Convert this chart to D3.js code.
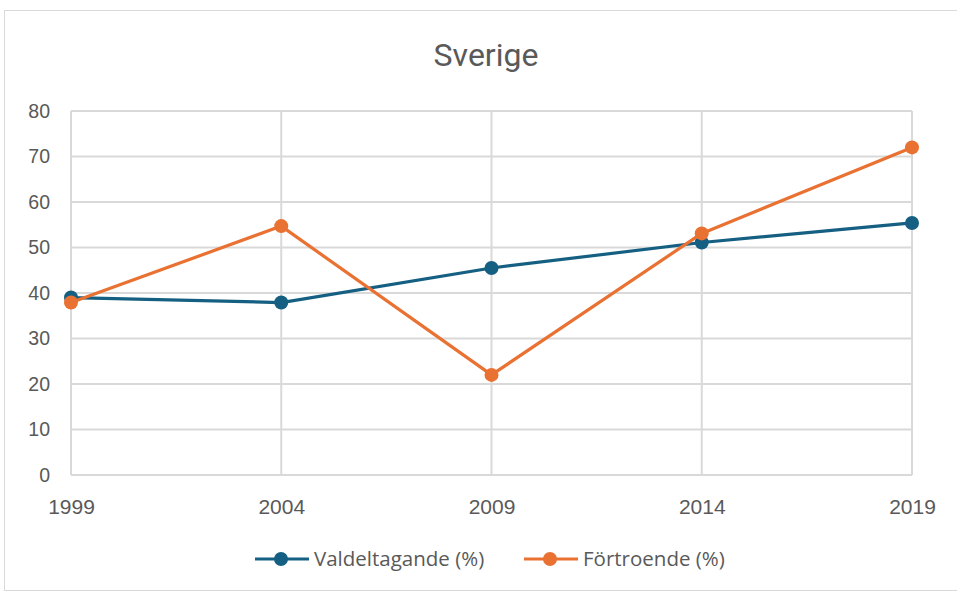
<!DOCTYPE html>
<html>
<head>
<meta charset="utf-8">
<script src="https://cdn.jsdelivr.net/npm/d3@7"></script>
<style>
  body { margin: 0; background: #fff; }
  svg text { fill: #595959; font-family: "Open Sans", "Liberation Sans", sans-serif; }
</style>
</head>
<body>
<svg id="chart" width="957" height="592"></svg>
<script>
const years = ['1999', '2004', '2009', '2014', '2019'];
const valdeltagande = [39.0, 37.9, 45.5, 51.1, 55.4];
const fortroende = [37.9, 54.7, 22.0, 53.1, 72.0];
const yTicks = [0, 10, 20, 30, 40, 50, 60, 70, 80];
const seriesNames = ['Valdeltagande (%)', 'Förtroende (%)'];
const colors = ['#156082', '#E97132'];

const svg = d3.select('#chart');
const margin = {left: 71, right: 45, top: 111, bottom: 117};
const width = 957, height = 592;

svg.append('rect')
    .attr('x', 4.5).attr('y', 10.5)
    .attr('width', 960).attr('height', 580)
    .attr('fill', '#fff').attr('stroke', '#d9d9d9');

svg.append('text')
    .attr('x', 486).attr('y', 66)
    .attr('text-anchor', 'middle')
    .style('font-size', '32px')
    .style('font-family', '"Roboto", sans-serif')
    .text('Sverige');

const x = d3.scalePoint().domain(years).range([margin.left, width - margin.right]);
const y = d3.scaleLinear().domain([0, 80]).range([height - margin.bottom, margin.top]);

// gridlines
svg.append('g').selectAll('line.h').data(yTicks).enter().append('line')
    .attr('x1', margin.left).attr('x2', width - margin.right)
    .attr('y1', d => y(d)).attr('y2', d => y(d))
    .attr('stroke', '#d9d9d9').attr('stroke-width', 2);
svg.append('g').selectAll('line.v').data(years).enter().append('line')
    .attr('x1', d => x(d)).attr('x2', d => x(d))
    .attr('y1', y(80)).attr('y2', y(0))
    .attr('stroke', '#d9d9d9').attr('stroke-width', 2);

// axes labels
const yAxis = svg.append('g')
    .attr('transform', 'translate(' + (margin.left - 21) + ',0)')
    .call(d3.axisLeft(y).tickValues(yTicks).tickSize(0).tickPadding(0));
yAxis.select('.domain').remove();
yAxis.selectAll('text').style('font-size', '19.5px').style('font-family', '"Liberation Sans", sans-serif');

const xAxis = svg.append('g')
    .attr('transform', 'translate(0,' + (y(0) + 16) + ')')
    .call(d3.axisBottom(x).tickSize(0).tickPadding(8));
xAxis.select('.domain').remove();
xAxis.selectAll('text').style('font-size', '21px').style('font-family', '"Liberation Sans", sans-serif');

// lines
const line = d3.line().x((d, i) => x(years[i])).y(d => y(d));
[valdeltagande, fortroende].forEach((vals, k) => {
  svg.append('path')
      .attr('d', line(vals))
      .attr('fill', 'none')
      .attr('stroke', colors[k])
      .attr('stroke-width', 3.2)
      .attr('stroke-linejoin', 'round');
  svg.append('g').selectAll('circle').data(vals).enter().append('circle')
      .attr('cx', (d, i) => x(years[i]))
      .attr('cy', d => y(d))
      .attr('r', 7)
      .attr('fill', colors[k]);
});

// legend
const legendX = [255, 524];
seriesNames.forEach((name, k) => {
  const g = svg.append('g').attr('transform', 'translate(' + legendX[k] + ',559)');
  g.append('line').attr('x1', 0).attr('x2', 54).attr('y1', 0).attr('y2', 0)
      .attr('stroke', colors[k]).attr('stroke-width', 3.2);
  g.append('circle').attr('cx', 26).attr('cy', 0).attr('r', 7).attr('fill', colors[k]);
  g.append('text').attr('x', 59).attr('y', 7)
      .style('font-size', '20.5px')
      .text(name);
});
</script>
</body>
</html>
